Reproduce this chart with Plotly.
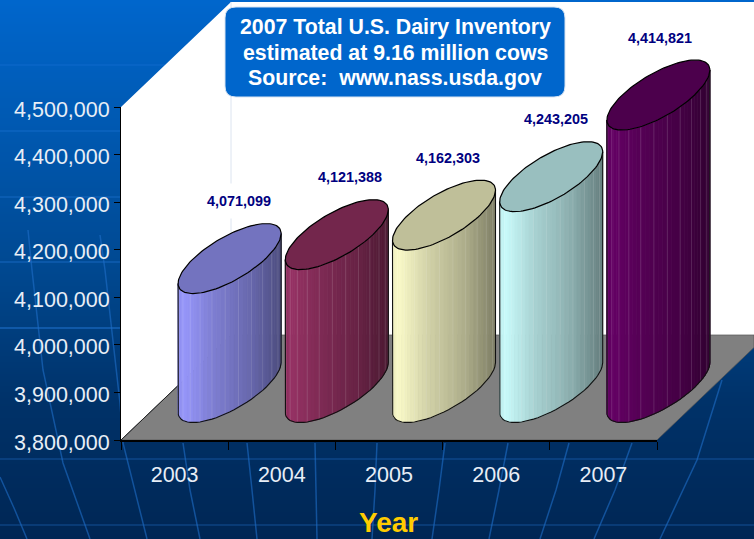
import numpy as np
import plotly.graph_objects as go

# ---- data ----
years = ["2003", "2004", "2005", "2006", "2007"]
inventory = [4071099, 4121388, 4162303, 4243205, 4414821]
y_ticks = [3800000, 3900000, 4000000, 4100000, 4200000, 4300000, 4400000, 4500000]
title_lines = ["2007 Total U.S. Dairy Inventory", "estimated at 9.16 million cows", "Source:  www.nass.usda.gov"]
axis_title = "Year"

# ---- styling ----
base_colors = [(153, 153, 255), (153, 51, 102), (255, 255, 204), (204, 255, 255), (102, 0, 102)]
W, H = 754, 539
L, R, T, B = 121, 657, 107, 440           # axis frame in page pixels
DEPTH_X, DEPTH_Y = 110, 105               # oblique depth of the floor in pixels
Y0, Y1 = 3800000, 4500000
SANS = "Liberation Sans, Arial, sans-serif"

ux = (R - L) / len(years)                 # pixels per category
uy = (B - T) / (Y1 - Y0)                  # pixels per unit of value
depth_x = DEPTH_X / ux
depth_val = DEPTH_Y / uy
extent = 51.5 / ux
Dx = 0.5 * (DEPTH_X * 2 / 3) / ux         # depth half-axis, x part
Dv = 0.5 * (DEPTH_Y * 2 / 3) / uy         # depth half-axis, value part
Ex = np.sqrt(extent ** 2 - Dx ** 2)       # width half-axis
t_right = np.arctan2(Dx, Ex)
t_left = t_right - np.pi


def px(x):
    return x / W


def py(y):
    return 1 - y / H


def rgb(c, f):
    return "rgb(%d,%d,%d)" % tuple(min(255, int(round(v * f))) for v in c)


shapes = []
# page background bands
stops = [(0, (0, 102, 204)), (130, (0, 88, 176)), (270, (0, 72, 144)), (400, (0, 50, 105)), (539, (0, 38, 84))]
ys = [s[0] for s in stops]
for y in range(0, H, 2):
    col = [np.interp(y, ys, [s[1][k] for s in stops]) for k in range(3)]
    shapes.append(dict(type="rect", xref="paper", yref="paper", x0=0, x1=1, y0=py(min(y + 2.5, H)), y1=py(y),
                       fillcolor=rgb(col, 1), line_width=0, layer="below"))
# background globe lines
for y, a in [(65, .35), (131, .45), (197, .5), (262, .55), (328, .8), (459, .45), (525, .45)]:
    shapes.append(dict(type="line", xref="paper", yref="paper", x0=0, x1=1, y0=py(y), y1=py(y),
                       line=dict(color="rgba(40,130,230,%.2f)" % a, width=1), layer="below"))
curves = [
    [(0, 477), (14, 508), (27, 539)],
    [(28, 230), (32, 270), (43, 370), (63, 463), (90, 539)],
    [(100, 235), (105, 270), (120, 403), (123, 443), (147, 539)],
    [(183, 443), (190, 490), (200, 539)],
    [(247, 443), (252, 490), (257, 539)],
    [(315, 443), (317, 539)],
    [(377, 443), (375, 490), (372, 539)],
    [(445, 443), (439, 490), (432, 539)],
    [(508, 443), (499, 490), (489, 539)],
    [(569, 443), (556, 490), (540, 539)],
    [(632, 443), (615, 490), (594, 539)],
    [(722, 380), (697, 460), (660, 539)],
]
for c in curves:
    d = "M %.5f,%.5f " % (px(c[0][0]), py(c[0][1]))
    d += " ".join("L %.5f,%.5f" % (px(a), py(b)) for a, b in c[1:])
    shapes.append(dict(type="path", xref="paper", yref="paper", path=d,
                       line=dict(color="rgba(30,110,200,0.6)", width=1.5), layer="below"))


def poly(pts, fill, line=None):
    d = "M " + " L ".join("%.5f,%.5f" % (px(a), py(b)) for a, b in pts) + " Z"
    shapes.append(dict(type="path", xref="paper", yref="paper", path=d, fillcolor=fill,
                       line=line or dict(width=0), layer="below"))


# walls and floor
poly([(L, T), (L + DEPTH_X, 2), (W, 2), (W, B - DEPTH_Y), (L + DEPTH_X, B - DEPTH_Y), (L, B)], "white")
shapes.append(dict(type="line", xref="paper", yref="paper", x0=px(L + DEPTH_X), x1=px(L + DEPTH_X),
                   y0=py(2), y1=py(B - DEPTH_Y), line=dict(color="#DCE4F0", width=1), layer="below"))
poly([(L, B), (R, B), (W, B - (W - R) * DEPTH_Y / DEPTH_X), (W, B - DEPTH_Y), (L + DEPTH_X, B - DEPTH_Y)], "#808080",
     dict(color="#555555", width=0.7))
shapes.append(dict(type="line", xref="paper", yref="paper", x0=px(L), x1=px(L + DEPTH_X),
                   y0=py(B), y1=py(B - DEPTH_Y), line=dict(color="#222222", width=1), layer="below"))

# title box (rounded)
bx0, bx1, by0, by1, r = 225, 565, 7, 97, 11
d = ("M %f,%f L %f,%f Q %f,%f %f,%f L %f,%f Q %f,%f %f,%f L %f,%f Q %f,%f %f,%f L %f,%f Q %f,%f %f,%f Z" % (
    px(bx0 + r), py(by0), px(bx1 - r), py(by0), px(bx1), py(by0), px(bx1), py(by0 + r),
    px(bx1), py(by1 - r), px(bx1), py(by1), px(bx1 - r), py(by1),
    px(bx0 + r), py(by1), px(bx0), py(by1), px(bx0), py(by1 - r),
    px(bx0), py(by0 + r), px(bx0), py(by0), px(bx0 + r), py(by0)))
shapes.append(dict(type="path", xref="paper", yref="paper", path=d, fillcolor="#0066CC",
                   line=dict(color="#D8E4F2", width=1), layer="above"))

fig = go.Figure()
# holds the visible axes in place; the drawn cylinders use the same scale on a page-wide pair
fig.add_trace(go.Scatter(x=[i + 0.5 for i in range(len(years))], y=inventory, mode="markers",
                         marker=dict(opacity=0, size=1), showlegend=False, hoverinfo="skip"))
N = 36
skip = dict(showlegend=False, hoverinfo="skip", xaxis="x2", yaxis="y2")
for i, (val, c) in enumerate(zip(inventory, base_colors)):
    cx = i + 0.5 + depth_x / 2
    top = val + depth_val / 2
    bot = Y0 + depth_val / 2
    ts = np.linspace(t_left, t_right, N + 1)
    ex = cx + Ex * np.cos(ts) + Dx * np.sin(ts)
    ds = Dv * np.sin(ts)
    # side facets, light on the left to dark on the right
    for k in range(N):
        f = (ex[k] + ex[k + 1]) / 2
        frac = (f - ex[0]) / (ex[-1] - ex[0])
        shade = np.interp(frac, [0, .06, .35, .7, 1], [.93, .98, .82, .68, .5])
        col = rgb(c, shade)
        fig.add_trace(go.Scatter(
            x=[ex[k], ex[k + 1], ex[k + 1], ex[k], ex[k]],
            y=[bot + ds[k], bot + ds[k + 1], top + ds[k + 1], top + ds[k], bot + ds[k]],
            mode="lines", fill="toself", fillcolor=col, line=dict(color=col, width=0.8), **skip))
    # pale facet seams
    sx, sy = [], []
    for k in range(2, N, 3):
        sx += [ex[k], ex[k], None]
        sy += [top + ds[k], bot + ds[k], None]
    fig.add_trace(go.Scatter(x=sx, y=sy, mode="lines", line=dict(color="rgba(255,255,255,0.13)", width=1), **skip))
    # outline of the body
    fig.add_trace(go.Scatter(
        x=[ex[0]] + list(ex) + [ex[-1]],
        y=[top + ds[0]] + list(bot + ds) + [top + ds[-1]],
        mode="lines", line=dict(color="#111111", width=1.1), **skip))
    # top cap
    tc = np.linspace(0, 2 * np.pi, 121)
    fig.add_trace(go.Scatter(
        x=cx + Ex * np.cos(tc) + Dx * np.sin(tc), y=top + Dv * np.sin(tc),
        mode="lines", fill="toself", fillcolor=rgb(c, .75), line=dict(color="#000000", width=1.2), **skip))

# value labels
label_dx = [64, 68, 59, 60, 57]
label_dy = 110
annotations = []
for i, (val, n) in enumerate(zip(inventory, label_dx)):
    annotations.append(dict(
        x=i + 0.5 + n / ux, y=val + label_dy / uy, xref="x2", yref="y2", showarrow=False,
        text=f"<b>{val:,}</b>", bgcolor="white", borderpad=3 if i else 9,
        font=dict(family=SANS, size=14.4, color="#000080"), xanchor="center", yanchor="middle"))

for line, yp in zip(title_lines, (27, 53, 78)):
    annotations.append(dict(
        x=px(395), y=py(yp), xref="paper", yref="paper", showarrow=False, align="center",
        xanchor="center", yanchor="middle", text=f"<b>{line}</b>",
        font=dict(family=SANS, size=21.3, color="white")))
annotations.append(dict(
    x=px(388), y=py(522), xref="paper", yref="paper", showarrow=False, xanchor="center", yanchor="middle",
    text=f"<b>{axis_title}</b>", font=dict(family=SANS, size=28, color="#FFCC00")))

fig.update_layout(
    width=W, height=H, autosize=False,
    margin=dict(l=0, r=0, t=0, b=0, pad=0),
    paper_bgcolor="rgba(0,0,0,0)", plot_bgcolor="rgba(0,0,0,0)",
    shapes=shapes, annotations=annotations, showlegend=False,
    xaxis=dict(domain=[L / W, R / W], range=[0, len(years)], tickmode="array", automargin=False,
               tickvals=[i + 0.5 for i in range(len(years))], ticktext=years, ticks="",
               ticklabelstandoff=14, showgrid=False, zeroline=False, showline=True,
               linecolor="black", linewidth=1.5, fixedrange=True,
               tickfont=dict(family=SANS, size=21.5, color="#E8EEF6"),
               minor=dict(tickmode="array", tickvals=list(range(len(years) + 1)), ticks="outside",
                          ticklen=8, tickcolor="black", tickwidth=1, showgrid=False)),
    yaxis=dict(domain=[1 - B / H, 1 - T / H], range=[Y0, Y1], tickmode="array", tickvals=y_ticks,
               tickformat=",d", ticks="outside", automargin=False, ticklabelshift=2,
               ticklen=6, tickcolor="black", tickwidth=1, showgrid=False, zeroline=False,
               showline=True, linecolor="black", linewidth=1, fixedrange=True,
               tickfont=dict(family=SANS, size=21.5, color="#E8EEF6")),
    xaxis2=dict(domain=[0, 1], range=[-L / ux, (W - L) / ux], visible=False, anchor="y2", fixedrange=True,
                automargin=False),
    yaxis2=dict(domain=[0, 1], range=[Y0 - (H - B) / uy, Y0 + B / uy], visible=False, anchor="x2", fixedrange=True,
                automargin=False),
)
fig.write_html("out.html", config={"displayModeBar": False},
               post_script="document.body.style.margin='0';document.body.style.overflow='hidden';")
